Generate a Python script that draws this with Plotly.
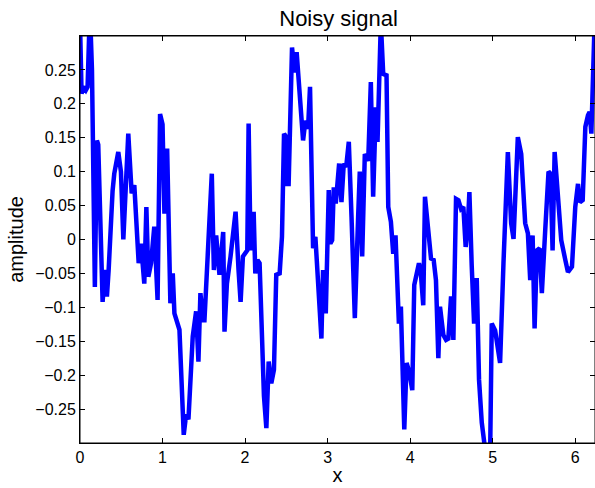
import plotly.graph_objects as go

x_vals = [0.0, 0.019, 0.04, 0.07, 0.092, 0.12, 0.145, 0.18, 0.205, 0.221, 0.274, 0.302, 0.326, 0.347,
          0.395, 0.415, 0.464, 0.496, 0.525, 0.545, 0.585, 0.626, 0.658, 0.711, 0.739, 0.779, 0.804,
          0.828, 0.861, 0.90, 0.94, 0.97, 1.0, 1.023, 1.056, 1.095, 1.124, 1.144, 1.205, 1.257, 1.286,
          1.314, 1.366, 1.407, 1.435, 1.459, 1.49, 1.508, 1.557, 1.597, 1.622, 1.65, 1.69, 1.735, 1.751,
          1.78, 1.824, 1.885, 1.921, 1.946, 1.974, 2.027, 2.043, 2.067, 2.104, 2.124, 2.15, 2.176,
          2.229, 2.258, 2.286, 2.318, 2.35, 2.378, 2.419, 2.447, 2.472, 2.5, 2.512, 2.528, 2.569,
          2.601, 2.625, 2.703, 2.731, 2.763, 2.787, 2.824, 2.852, 2.885, 2.925, 2.945, 2.978, 3.014,
          3.034, 3.055, 3.075, 3.099, 3.14, 3.168, 3.196, 3.225, 3.257, 3.29, 3.33, 3.37, 3.39, 3.419,
          3.451, 3.492, 3.524, 3.552, 3.585, 3.605, 3.621, 3.645, 3.674, 3.714, 3.735, 3.767, 3.795,
          3.823, 3.864, 3.888, 3.929, 3.957, 3.989, 4.026, 4.05, 4.079, 4.107, 4.127, 4.159, 4.18,
          4.22, 4.253, 4.285, 4.313, 4.342, 4.362, 4.403, 4.435, 4.463, 4.496, 4.524, 4.556, 4.585,
          4.617, 4.645, 4.673, 4.698, 4.718, 4.746, 4.775, 4.807, 4.835, 4.868, 4.93, 4.969, 4.989,
          5.03, 5.09, 5.131, 5.184, 5.224, 5.253, 5.305, 5.346, 5.394, 5.427, 5.455, 5.484, 5.508,
          5.536, 5.569, 5.596, 5.637, 5.677, 5.702, 5.726, 5.751, 5.791, 5.831, 5.88, 5.912, 5.961,
          6.001, 6.034, 6.058, 6.091, 6.123, 6.155, 6.175, 6.196, 6.212, 6.235]
y_vals = [0.32, 0.215, 0.225, 0.22, 0.225, 0.34, 0.25, -0.07, 0.146, 0.14, -0.092, -0.045, -0.084, -0.045,
          0.072, 0.097, 0.129, 0.10, 0.0, 0.063, 0.156, 0.068, 0.08, -0.035, -0.006, -0.065, 0.048,
          -0.055, -0.035, 0.019, -0.089, 0.185, 0.17, 0.038, 0.134, -0.094, -0.05, -0.109, -0.133, -0.288, -0.258,
          -0.265, -0.143, -0.106, -0.18, -0.079, -0.119, -0.119, -0.006, 0.097, -0.045, 0.006, -0.052, 0.011, -0.136,
          -0.065, -0.025, 0.041, -0.045, -0.092, -0.025, -0.016, 0.171, -0.016, 0.041, -0.05, -0.03, -0.035,
          -0.231, -0.278, -0.18, -0.212, -0.192, -0.052, -0.05, 0.004, 0.156, 0.151, 0.082, 0.082, 0.283,
          0.246, 0.276, 0.146, 0.175, 0.163, 0.225, -0.013, 0.004, -0.065, -0.146, -0.045, -0.109, 0.073,
          -0.006, -0.001, 0.077, 0.053, 0.112, 0.055, 0.112, 0.107, 0.144, 0.033, -0.116, 0.033, 0.1, -0.025,
          0.126, 0.116, 0.232, 0.063, 0.195, 0.144, 0.193, 0.32, 0.244, 0.242, 0.048, 0.026, -0.021,
          0.006, -0.124, -0.099, -0.28, -0.182, -0.195, -0.222, -0.067, -0.05, -0.035, -0.045, -0.097, 0.063,
          0.009, -0.028, -0.03, -0.06, -0.175, -0.099, -0.141, -0.148, -0.146, -0.084, -0.148, 0.06, 0.058,
          0.045, 0.048, -0.011, 0.019, 0.07, -0.038, -0.124, -0.057, -0.207, -0.27, -0.33, -0.32, -0.124,
          -0.134, -0.182, -0.035, 0.129, 0.024, 0.001, 0.151, 0.126, 0.024, 0.009, -0.06, 0.006, -0.131,
          -0.016, -0.013, -0.079, 0.014, 0.1, 0.097, -0.016, 0.129, 0.063, -0.001, -0.03, -0.048, -0.04,
          0.048, 0.082, 0.055, 0.058, 0.166, 0.183, 0.188, 0.156, 0.235, 0.32]

x_ticks = [0, 1, 2, 3, 4, 5, 6]
y_ticks = [-0.25, -0.2, -0.15, -0.1, -0.05, 0, 0.05, 0.1, 0.15, 0.2, 0.25]
y_tick_labels = ["\u22120.25", "\u22120.2", "\u22120.15", "\u22120.1", "\u22120.05", "0",
                 "0.05", "0.1", "0.15", "0.2", "0.25"]

fig = go.Figure()
fig.add_trace(go.Scatter(x=x_vals, y=y_vals, mode="lines",
                         line=dict(color="rgb(0,0,255)", width=4.5), showlegend=False))

font = "Liberation Sans, Arial, sans-serif"
fig.update_layout(
    width=595, height=488,
    margin=dict(l=80, r=0, t=36, b=45, autoexpand=False),
    paper_bgcolor="white", plot_bgcolor="white",
    font=dict(family=font, size=16, color="black"),
    title=dict(text="Noisy signal", x=0.569, xanchor="center", y=0.963, yanchor="middle",
               font=dict(size=22, family=font, color="black")),
    shapes=[dict(type="rect", xref="paper", yref="paper", x0=0, x1=1, y0=0, y1=1,
                 line=dict(color="black", width=1), layer="above")],
)
fig.update_xaxes(range=[0, 6.24], tickvals=x_ticks, ticks="inside", ticklen=5, tickcolor="black",
                 showline=True, linecolor="black", linewidth=1, mirror="ticks", showgrid=False,
                 zeroline=False, automargin=False,
                 title=dict(text="x", font=dict(size=20), standoff=2),
                 tickfont=dict(size=16))
fig.update_yaxes(range=[-0.3, 0.3], tickvals=y_ticks, ticktext=y_tick_labels, ticks="inside", ticklen=5,
                 tickcolor="black", showline=True, linecolor="black", linewidth=1, mirror="ticks",
                 showgrid=False, zeroline=False, automargin=False,
                 title=dict(text="amplitude", font=dict(size=20), standoff=6),
                 tickfont=dict(size=16))

fig.write_html("out.html", config={"displayModeBar": False},
               post_script="document.body.style.margin='0px';")
